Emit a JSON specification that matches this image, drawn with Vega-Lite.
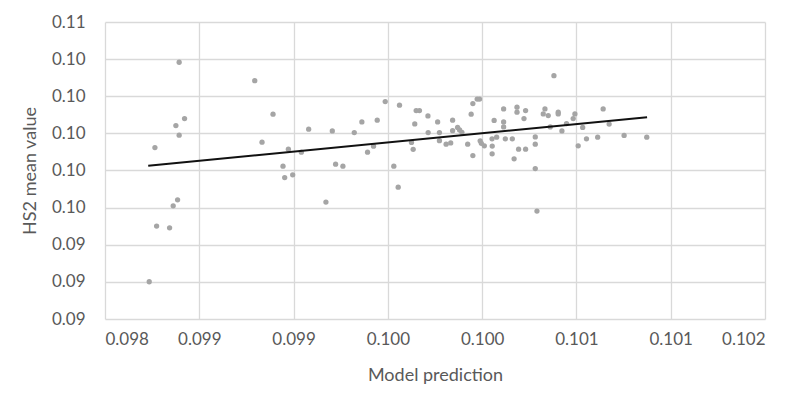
{
  "$schema": "https://vega.github.io/schema/vega-lite/v6.json",
  "autosize": "none",
  "width": 660,
  "height": 297,
  "padding": {"left": 105, "top": 22, "right": 37, "bottom": 87},
  "background": "white",
  "config": {
    "view": {"stroke": null},
    "font": "Lato",
    "axis": {
      "labelFont": "Lato", "titleFont": "Lato",
      "labelColor": "#595959", "titleColor": "#595959",
      "labelFontSize": 17, "titleFontSize": 18, "titleFontWeight": "normal",
      "gridColor": "#d9d9d9", "gridWidth": 1.3, "domain": false, "ticks": false,
      "labelOverlap": false, "tickCount": 30
    }
  },
  "datasets": {
    "points": [
      {"pred": 0.0982345, "hs2": 0.092007},
      {"pred": 0.0982647, "hs2": 0.099236},
      {"pred": 0.0982737, "hs2": 0.095005},
      {"pred": 0.0983425, "hs2": 0.094914},
      {"pred": 0.0983616, "hs2": 0.096098},
      {"pred": 0.0983849, "hs2": 0.096421},
      {"pred": 0.0983759, "hs2": 0.100420},
      {"pred": 0.0983933, "hs2": 0.099903},
      {"pred": 0.0984219, "hs2": 0.100796},
      {"pred": 0.0983933, "hs2": 0.103832},
      {"pred": 0.0987941, "hs2": 0.102841},
      {"pred": 0.0988327, "hs2": 0.099526},
      {"pred": 0.0988910, "hs2": 0.101033},
      {"pred": 0.0989439, "hs2": 0.098234},
      {"pred": 0.0989529, "hs2": 0.097621},
      {"pred": 0.0989953, "hs2": 0.097766},
      {"pred": 0.0989725, "hs2": 0.099149},
      {"pred": 0.0990413, "hs2": 0.098988},
      {"pred": 0.0990800, "hs2": 0.100226},
      {"pred": 0.0991716, "hs2": 0.096297},
      {"pred": 0.0992054, "hs2": 0.100134},
      {"pred": 0.0992229, "hs2": 0.098342},
      {"pred": 0.0992616, "hs2": 0.098234},
      {"pred": 0.0993219, "hs2": 0.100043},
      {"pred": 0.0993622, "hs2": 0.100619},
      {"pred": 0.0993923, "hs2": 0.098988},
      {"pred": 0.0994241, "hs2": 0.099311},
      {"pred": 0.0994437, "hs2": 0.100710},
      {"pred": 0.0994860, "hs2": 0.101711},
      {"pred": 0.0995316, "hs2": 0.098234},
      {"pred": 0.0995548, "hs2": 0.097104},
      {"pred": 0.0995617, "hs2": 0.101517},
      {"pred": 0.0996253, "hs2": 0.099515},
      {"pred": 0.0996343, "hs2": 0.099139},
      {"pred": 0.0996427, "hs2": 0.100511},
      {"pred": 0.0996501, "hs2": 0.101227},
      {"pred": 0.0996676, "hs2": 0.101227},
      {"pred": 0.0997126, "hs2": 0.100942},
      {"pred": 0.0997137, "hs2": 0.100043},
      {"pred": 0.0997640, "hs2": 0.100619},
      {"pred": 0.0997735, "hs2": 0.100043},
      {"pred": 0.0997735, "hs2": 0.099607},
      {"pred": 0.0998090, "hs2": 0.099419},
      {"pred": 0.0998333, "hs2": 0.099488},
      {"pred": 0.0998434, "hs2": 0.100710},
      {"pred": 0.0998434, "hs2": 0.100145},
      {"pred": 0.0998698, "hs2": 0.100323},
      {"pred": 0.0998804, "hs2": 0.100188},
      {"pred": 0.0998926, "hs2": 0.100054},
      {"pred": 0.0999233, "hs2": 0.099419},
      {"pred": 0.0999418, "hs2": 0.101033},
      {"pred": 0.0999508, "hs2": 0.101604},
      {"pred": 0.0999508, "hs2": 0.098805},
      {"pred": 0.0999736, "hs2": 0.101846},
      {"pred": 0.0999863, "hs2": 0.101846},
      {"pred": 0.0999895, "hs2": 0.099596},
      {"pred": 0.0999958, "hs2": 0.099462},
      {"pred": 0.1000117, "hs2": 0.099327},
      {"pred": 0.1000525, "hs2": 0.099704},
      {"pred": 0.1000535, "hs2": 0.099316},
      {"pred": 0.1000530, "hs2": 0.098896},
      {"pred": 0.1000636, "hs2": 0.100699},
      {"pred": 0.1000768, "hs2": 0.099795},
      {"pred": 0.1001139, "hs2": 0.101318},
      {"pred": 0.1001139, "hs2": 0.100619},
      {"pred": 0.1001139, "hs2": 0.100350},
      {"pred": 0.1001229, "hs2": 0.099704},
      {"pred": 0.1001600, "hs2": 0.099704},
      {"pred": 0.1001695, "hs2": 0.098627},
      {"pred": 0.1001848, "hs2": 0.101410},
      {"pred": 0.1001848, "hs2": 0.101141},
      {"pred": 0.1001933, "hs2": 0.099149},
      {"pred": 0.1002219, "hs2": 0.100796},
      {"pred": 0.1002304, "hs2": 0.101227},
      {"pred": 0.1002304, "hs2": 0.099149},
      {"pred": 0.1002817, "hs2": 0.099811},
      {"pred": 0.1002817, "hs2": 0.099419},
      {"pred": 0.1002817, "hs2": 0.098105},
      {"pred": 0.1002907, "hs2": 0.095813},
      {"pred": 0.1003241, "hs2": 0.101049},
      {"pred": 0.1003331, "hs2": 0.101318},
      {"pred": 0.1003505, "hs2": 0.100958},
      {"pred": 0.1003611, "hs2": 0.100350},
      {"pred": 0.1003807, "hs2": 0.103111},
      {"pred": 0.1004035, "hs2": 0.101141},
      {"pred": 0.1004035, "hs2": 0.101049},
      {"pred": 0.1004231, "hs2": 0.100134},
      {"pred": 0.1004474, "hs2": 0.100527},
      {"pred": 0.1004829, "hs2": 0.100796},
      {"pred": 0.1004919, "hs2": 0.101049},
      {"pred": 0.1005094, "hs2": 0.099327},
      {"pred": 0.1005332, "hs2": 0.100323},
      {"pred": 0.1005533, "hs2": 0.099704},
      {"pred": 0.1006126, "hs2": 0.099795},
      {"pred": 0.1006417, "hs2": 0.101318},
      {"pred": 0.1006735, "hs2": 0.100500},
      {"pred": 0.1007529, "hs2": 0.099892},
      {"pred": 0.1008730, "hs2": 0.099795}
    ],
    "trend": [
      {"pred": 0.0982292, "hs2": 0.098250},
      {"pred": 0.1008746, "hs2": 0.100872}
    ]
  },
  "layer": [
    {
      "data": {"name": "points"},
      "mark": {"type": "circle", "size": 28, "color": "#a5a5a5", "opacity": 1},
      "encoding": {
        "x": {
          "field": "pred", "type": "quantitative",
          "scale": {"domain": [0.098, 0.1015], "nice": false, "zero": false},
          "axis": {
            "title": "Model prediction",
            "values": [0.098, 0.0985, 0.099, 0.0995, 0.1, 0.1005, 0.101, 0.1015],
            "labelExpr": "format(datum.value + 1e-9, '.3f')",
            "labelPadding": 12, "titlePadding": 19, "tickCount": 30
          }
        },
        "y": {
          "field": "hs2", "type": "quantitative",
          "scale": {"domain": [0.09, 0.106], "nice": false, "zero": false},
          "axis": {
            "title": "HS2 mean value",
            "values": [0.09, 0.092, 0.094, 0.096, 0.098, 0.1, 0.102, 0.104, 0.106],
            "labelExpr": "format(datum.value + 1e-9, '.2f')",
            "labelPadding": 20, "titlePadding": 12, "tickCount": 30
          }
        }
      }
    },
    {
      "data": {"name": "trend"},
      "mark": {"type": "line", "color": "#111111", "strokeWidth": 2},
      "encoding": {
        "x": {"field": "pred", "type": "quantitative"},
        "y": {"field": "hs2", "type": "quantitative"}
      }
    }
  ]
}
